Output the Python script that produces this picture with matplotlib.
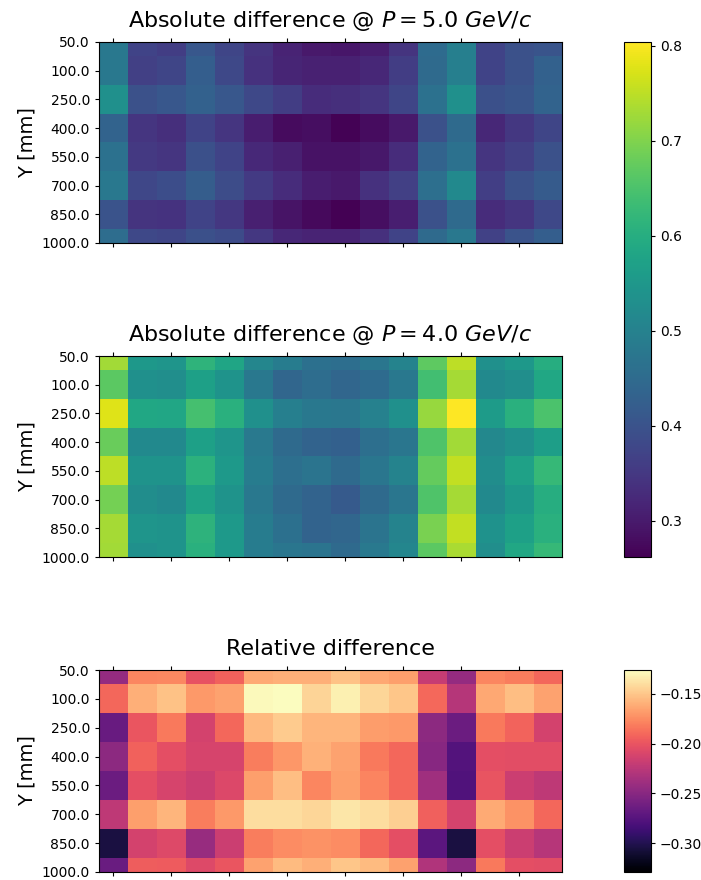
import numpy as np
import matplotlib
matplotlib.use("Agg")
import matplotlib.pyplot as plt

# Y positions (row labels) in mm
y_labels = ["50.0", "100.0", "250.0", "400.0", "550.0", "700.0", "850.0", "1000.0"]

# Absolute difference @ P = 5.0 GeV/c  (8 rows x 16 columns)
abs_p5 = [
    [0.479, 0.370, 0.360, 0.410, 0.376, 0.343, 0.316, 0.300, 0.295, 0.305, 0.343, 0.452, 0.495, 0.370, 0.397, 0.403],
    [0.480, 0.365, 0.375, 0.425, 0.380, 0.340, 0.318, 0.312, 0.312, 0.322, 0.360, 0.450, 0.495, 0.370, 0.397, 0.430],
    [0.533, 0.397, 0.410, 0.430, 0.410, 0.380, 0.360, 0.330, 0.335, 0.345, 0.375, 0.465, 0.535, 0.395, 0.405, 0.435],
    [0.435, 0.345, 0.335, 0.370, 0.345, 0.305, 0.278, 0.282, 0.265, 0.280, 0.300, 0.397, 0.450, 0.322, 0.350, 0.375],
    [0.465, 0.352, 0.345, 0.395, 0.370, 0.325, 0.310, 0.288, 0.288, 0.296, 0.330, 0.435, 0.465, 0.345, 0.365, 0.397],
    [0.480, 0.378, 0.390, 0.422, 0.388, 0.355, 0.330, 0.305, 0.298, 0.340, 0.365, 0.460, 0.520, 0.362, 0.397, 0.418],
    [0.400, 0.343, 0.342, 0.370, 0.350, 0.310, 0.290, 0.275, 0.262, 0.283, 0.308, 0.397, 0.450, 0.330, 0.345, 0.380],
    [0.455, 0.380, 0.375, 0.395, 0.385, 0.350, 0.322, 0.315, 0.316, 0.338, 0.370, 0.450, 0.480, 0.367, 0.400, 0.425],
]

# Absolute difference @ P = 4.0 GeV/c
abs_p4 = [
    [0.728, 0.550, 0.545, 0.614, 0.580, 0.510, 0.490, 0.462, 0.457, 0.475, 0.505, 0.670, 0.750, 0.535, 0.550, 0.600],
    [0.668, 0.533, 0.530, 0.570, 0.540, 0.478, 0.440, 0.455, 0.440, 0.452, 0.478, 0.640, 0.730, 0.520, 0.530, 0.585],
    [0.777, 0.585, 0.583, 0.645, 0.605, 0.535, 0.495, 0.480, 0.477, 0.500, 0.535, 0.720, 0.804, 0.560, 0.605, 0.650],
    [0.680, 0.520, 0.520, 0.570, 0.545, 0.482, 0.450, 0.435, 0.428, 0.460, 0.475, 0.655, 0.728, 0.515, 0.533, 0.565],
    [0.750, 0.540, 0.540, 0.610, 0.555, 0.490, 0.460, 0.470, 0.450, 0.475, 0.505, 0.675, 0.755, 0.528, 0.573, 0.625],
    [0.690, 0.528, 0.520, 0.575, 0.540, 0.480, 0.450, 0.435, 0.415, 0.450, 0.475, 0.655, 0.730, 0.520, 0.550, 0.600],
    [0.730, 0.545, 0.540, 0.612, 0.555, 0.490, 0.463, 0.435, 0.440, 0.470, 0.505, 0.695, 0.755, 0.538, 0.570, 0.605],
    [0.728, 0.533, 0.540, 0.605, 0.555, 0.490, 0.475, 0.470, 0.450, 0.482, 0.510, 0.668, 0.735, 0.530, 0.585, 0.625],
]

# Relative difference
rel_diff = [
    [-0.244, -0.177, -0.176, -0.201, -0.193, -0.162, -0.160, -0.160, -0.152, -0.163, -0.167, -0.219, -0.244, -0.177, -0.181, -0.191],
    [-0.191, -0.160, -0.152, -0.169, -0.165, -0.128, -0.126, -0.144, -0.132, -0.143, -0.150, -0.190, -0.228, -0.163, -0.153, -0.165],
    [-0.266, -0.199, -0.183, -0.213, -0.191, -0.156, -0.148, -0.157, -0.157, -0.168, -0.169, -0.248, -0.264, -0.183, -0.192, -0.213],
    [-0.248, -0.193, -0.203, -0.211, -0.211, -0.181, -0.170, -0.159, -0.165, -0.183, -0.191, -0.250, -0.276, -0.203, -0.204, -0.204],
    [-0.264, -0.203, -0.211, -0.217, -0.208, -0.167, -0.153, -0.177, -0.167, -0.178, -0.191, -0.238, -0.278, -0.200, -0.217, -0.223],
    [-0.223, -0.167, -0.157, -0.181, -0.169, -0.140, -0.140, -0.143, -0.136, -0.140, -0.146, -0.194, -0.212, -0.162, -0.172, -0.191],
    [-0.305, -0.213, -0.207, -0.242, -0.217, -0.181, -0.175, -0.172, -0.175, -0.191, -0.203, -0.272, -0.305, -0.203, -0.217, -0.227],
    [-0.265, -0.195, -0.196, -0.207, -0.199, -0.165, -0.155, -0.160, -0.150, -0.155, -0.166, -0.230, -0.248, -0.183, -0.203, -0.204],
]

abs_p5 = np.array(abs_p5)
abs_p4 = np.array(abs_p4)
rel_diff = np.array(rel_diff)

# shared scale for the two absolute maps
abs_min = min(abs_p5.min(), abs_p4.min())
abs_max = max(abs_p5.max(), abs_p4.max())
rel_min, rel_max = -0.329, -0.126

fig = plt.figure(figsize=(7.01, 8.8), dpi=100)
ax1 = fig.add_axes([0.1412, 0.7239, 0.6605, 0.2284])
ax2 = fig.add_axes([0.1412, 0.3670, 0.6605, 0.2284])
ax3 = fig.add_axes([0.1412, 0.0091, 0.6605, 0.2295])
cax1 = fig.add_axes([0.890, 0.3670, 0.0385, 0.5852])
cax2 = fig.add_axes([0.890, 0.0091, 0.0385, 0.2295])


def draw_map(ax, data, cmap, vmin, vmax, title):
    im = ax.imshow(data, cmap=cmap, vmin=vmin, vmax=vmax, aspect="auto")
    ax.set_ylim(len(y_labels) - 1, 0)
    ax.set_yticks(range(len(y_labels)))
    ax.set_yticklabels(y_labels, fontsize=10)
    ax.set_xticks(range(0, data.shape[1], 2))
    ax.set_xticklabels([])
    ax.tick_params(top=True, length=3)
    ax.set_ylabel("Y [mm]", fontsize=14)
    ax.set_title(title, fontsize=16, pad=11)
    return im


im1 = draw_map(ax1, abs_p5, "viridis", abs_min, abs_max,
               r"Absolute difference @ $P = 5.0\ GeV/c$")
im2 = draw_map(ax2, abs_p4, "viridis", abs_min, abs_max,
               r"Absolute difference @ $P = 4.0\ GeV/c$")
im3 = draw_map(ax3, rel_diff, "magma", rel_min, rel_max, "Relative difference")

cb1 = fig.colorbar(im1, cax=cax1)
cb1.ax.tick_params(labelsize=10, length=3)
cb2 = fig.colorbar(im3, cax=cax2)
cb2.ax.tick_params(labelsize=10, length=3)

fig.savefig("out.png", dpi=100)
